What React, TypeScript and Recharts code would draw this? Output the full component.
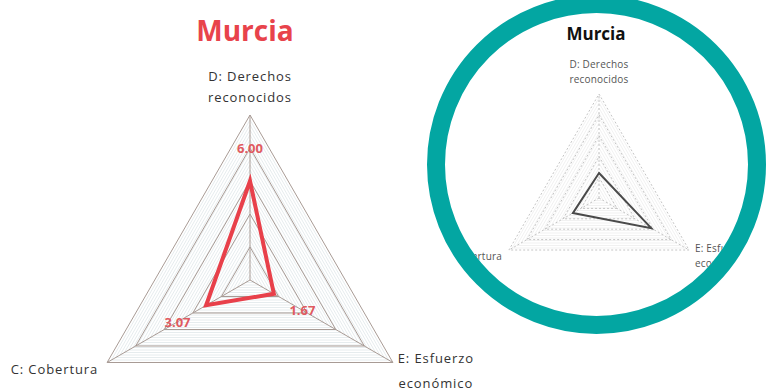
import React from 'react';
import { RadarChart, Radar, PolarGrid, PolarAngleAxis, PolarRadiusAxis } from 'recharts';

// ---- data ----
const axisNames = ['D: Derechos reconocidos', 'E: Esfuerzo económico', 'C: Cobertura'];
const axisLabelLines = [['D: Derechos', 'reconocidos'], ['E: Esfuerzo', 'económico'], ['C: Cobertura']];
const murciaValues = [6.0, 1.67, 3.07];
const insetValues = [2.4, 5.8, 2.9];
const radiusDomain = [0, 10];
const radiusTickCount = 6;
const titleText = 'Murcia';

const mainData = axisNames.map((a, i) => ({ axis: a, value: murciaValues[i] }));
const insetData = axisNames.map((a, i) => ({ axis: a, value: insetValues[i] }));

// ---- layout ----
const FONT = '"Open Sans", "Noto Sans", sans-serif';
const MAIN = { cx: 250, cy: 280, r: 165 };
const INSET = { cx: 154, cy: 185, r: 104 };

const hatchRadii = (r: number, step: number) => {
  const out: number[] = [];
  for (let v = step; v < r; v += step) out.push(v);
  return out;
};

const mainTickCfg = [
  { dx: 0, dys: [-26, -5], anchor: 'middle' },
  { dx: 36, dys: [-3.5, 21.5], anchor: 'middle' },
  { dx: -2, dys: [7], anchor: 'end' },
];
const insetTickCfg = [
  { dx: 0, dys: [-18, -3], anchor: 'middle' },
  { dx: -1, dys: [-2, 13], anchor: 'start' },
  { dx: 0, dys: [6], anchor: 'end' },
];

const makeTick = (cfg: any[], size: number, color: string, spacing: number) => (props: any) => {
  const { x, y, index } = props;
  const c = cfg[index] || cfg[0];
  const lines = axisLabelLines[index] || [String(props.payload?.value ?? '')];
  return (
    <g key={`t-${index}`}>
      {lines.map((ln: string, k: number) => (
        <text
          key={k}
          x={x + c.dx}
          y={y + c.dys[k]}
          textAnchor={c.anchor}
          fontFamily={FONT}
          fontSize={size}
          fill={color}
          letterSpacing={spacing}
        >
          {ln}
        </text>
      ))}
    </g>
  );
};

const renderValueLabel = (props: any) => {
  const { x, y, index, value } = props;
  const dx = x - MAIN.cx;
  const dy = y - MAIN.cy;
  const len = Math.sqrt(dx * dx + dy * dy) || 1;
  const lx = x + (dx / len) * 33;
  const ly = y + (dy / len) * 33;
  const v = typeof value === 'number' ? value : murciaValues[index];
  return (
    <text
      key={`l-${index}`}
      x={lx}
      y={ly}
      textAnchor="middle"
      dominantBaseline="central"
      fontFamily={FONT}
      fontSize={13}
      fontWeight={700}
      fill="#e05a60"
    >
      {v.toFixed(2)}
    </text>
  );
};

export default function App() {
  return (
    <div style={{ position: 'absolute', left: 0, top: 0, width: 770, height: 392, background: '#fff', overflow: 'hidden' }}>
      {/* main chart */}
      <div style={{ position: 'absolute', left: 0, top: 0 }}>
        <RadarChart width={500} height={392} data={mainData} cx={MAIN.cx} cy={MAIN.cy} outerRadius={MAIN.r} margin={{ top: 0, right: 0, bottom: 0, left: 0 }}>
          <text x={245} y={41} textAnchor="middle" fontFamily={FONT} fontSize={28} fontWeight={700} fill="#e8434b">
            {titleText}
          </text>
          <PolarGrid gridType="polygon" radialLines={false} polarRadius={hatchRadii(MAIN.r, 5)} stroke="#dfe7ea" strokeWidth={0.8} />
          <PolarGrid gridType="polygon" stroke="#a89b95" strokeWidth={1} />
          <PolarAngleAxis dataKey="axis" tick={makeTick(mainTickCfg, 13, '#333', 0.9)} tickLine={false} axisLine={false} />
          <PolarRadiusAxis domain={radiusDomain} tickCount={radiusTickCount} tick={false} axisLine={false} />
          <Radar dataKey="value" stroke="#e8404a" strokeWidth={4} fill="none" fillOpacity={0} isAnimationActive={false} label={renderValueLabel} />
        </RadarChart>
      </div>

      {/* inset circle */}
      <div
        style={{
          position: 'absolute',
          left: 427,
          top: -5,
          width: 339,
          height: 339,
          boxSizing: 'border-box',
          border: '18px solid #03a6a2',
          borderRadius: '50%',
          overflow: 'hidden',
          background: '#fff',
        }}
      >
        <RadarChart width={303} height={303} data={insetData} cx={INSET.cx} cy={INSET.cy} outerRadius={INSET.r} margin={{ top: 0, right: 0, bottom: 0, left: 0 }}>
          <text x={151} y={27} textAnchor="middle" fontFamily={FONT} fontSize={17} fontWeight={700} fill="#111">
            {titleText}
          </text>
          <PolarGrid gridType="polygon" radialLines={false} polarRadius={hatchRadii(INSET.r, 5)} stroke="#eeeeee" strokeWidth={0.8} />
          <PolarGrid gridType="polygon" stroke="#c4c4c4" strokeWidth={1} strokeDasharray="2 2" />
          <PolarAngleAxis dataKey="axis" tick={makeTick(insetTickCfg, 10, '#555', 0.2)} tickLine={false} axisLine={false} />
          <PolarRadiusAxis domain={radiusDomain} tickCount={radiusTickCount} tick={false} axisLine={false} />
          <Radar dataKey="value" stroke="#4a4a4a" strokeWidth={2} fill="none" fillOpacity={0} isAnimationActive={false} />
        </RadarChart>
      </div>
    </div>
  );
}
